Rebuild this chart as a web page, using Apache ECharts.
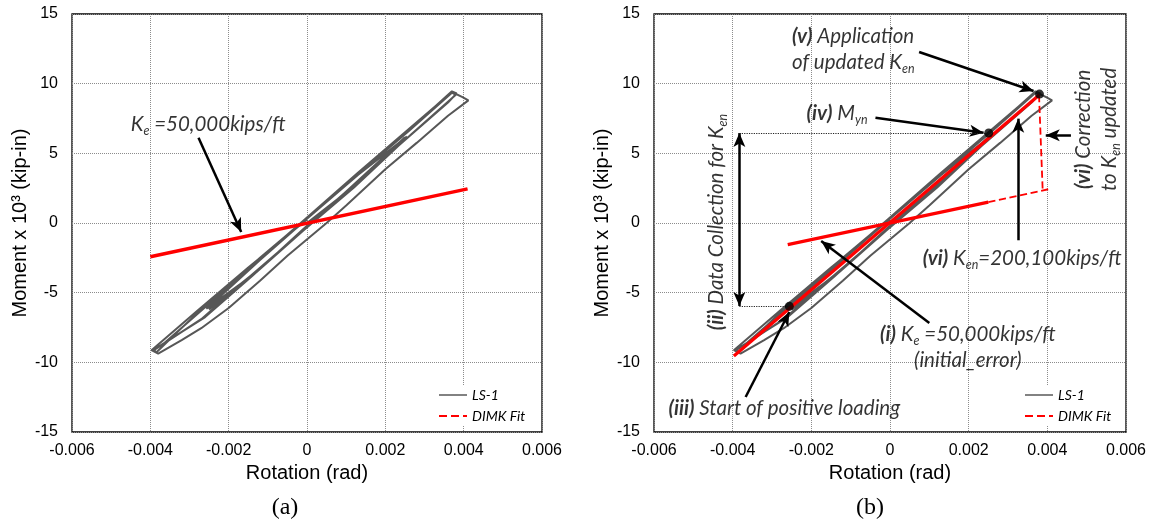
<!DOCTYPE html>
<html>
<head>
<meta charset="utf-8">
<title>LS-1 DIMK fit</title>
<script src="https://cdn.jsdelivr.net/npm/echarts@6/dist/echarts.min.js"></script>
<style>
  html, body { margin: 0; padding: 0; background: #fff; }
  #chart { width: 1151px; height: 523px; }
</style>
</head>
<body>
<div id="chart"></div>
<script>
// LS-1 test loop, rotation (rad) vs moment (x10^3 kip-in)
var ls1Loop = [
  [0, 0], [0.0008, 1.75], [0.0016, 3.8], [0.0025, 6.15], [0.0024, 5.75],
  [0.0012, 2.7], [0.0, -0.3], [-0.0012, -3.25], [-0.0025, -6.2], [-0.0024, -5.75],
  [-0.0012, -2.65], [0.0, 0.3], [0.0013, 3.45], [0.00255, 6.2], [0.00245, 5.85],
  [0.0012, 2.55], [-0.0001, -0.55], [-0.0013, -3.55], [-0.00257, -6.15], [-0.00245, -5.8],
  [-0.0012, -2.5], [0.0001, 0.6], [0.0013, 3.55], [0.0026, 6.65], [0.0037, 9.45],
  [0.00382, 9.3], [0.0036, 8.65], [0.0027, 6.45], [0.0014, 3.25], [0.0, -0.3],
  [-0.0014, -3.7], [-0.0027, -6.9], [-0.0039, -9.1], [-0.00385, -9.3], [-0.0028, -6.45],
  [-0.0015, -3.3], [0.0, 0.35], [0.0013, 3.5], [0.0026, 6.6], [0.0037, 9.35],
  [0.0038, 9.2], [0.0026, 6.2], [0.0012, 2.75], [-0.0001, -0.45], [-0.0014, -3.8],
  [-0.0026, -6.75], [-0.00395, -9.15], [-0.0037, -8.75], [-0.0025, -5.8], [-0.0012, -2.55],
  [0.0, 0.4], [0.0013, 3.6], [0.0026, 6.75], [0.0037, 9.4], [0.00397, 9.04],
  [0.00412, 8.8], [0.0036, 7.7], [0.0028, 5.75], [0.002, 3.85], [0.001, 1.25],
  [0.0005, 0.0], [-0.0005, -2.35], [-0.0012, -4.15], [-0.002, -6.1], [-0.0027, -7.55],
  [-0.0032, -8.4], [-0.0036, -9.05], [-0.0038, -9.38], [-0.00397, -9.13], [-0.0028, -6.3],
  [-0.0015, -3.2], [0.0, 0.25]
];

// DIMK fit lines
var dimkA = [[-0.004, -2.42], [0.0041, 2.45]];
var dimkB = [[-0.00397, -9.55], [0.0038, 9.2]];
var keSolidB = [[-0.0026, -1.55], [0.0025, 1.5]];
var keDashB = [[0.0025, 1.5], [0.0041, 2.47]];
var correctionB = [[0.00388, 2.47], [0.00379, 9.1]];
var pointsB = [[0.0038, 9.25], [0.00251, 6.46], [-0.00256, -5.98]];

// axes
var rotRange = [-0.006, 0.006, 0.002];
var momRange = [-15, 15, 5];

// annotation arrows [x1, y1, x2, y2]
var arrowsA = [[-0.00277, 6.12, -0.00168, -0.65]];
var arrowsB = [
  [0.00074, 12.27, 0.00365, 9.47],
  [-0.00037, 7.56, 0.00238, 6.48],
  [0.00326, -1.24, 0.00326, 7.49],
  [0.0046, 6.29, 0.00396, 6.29],
  [0.001, -7.18, -0.00175, -1.29],
  [-0.00367, -12.49, -0.00256, -6.39]
];
var doubleArrowB = [[-0.00383, 6.46, -0.00383, -5.96]];
var guidesB = [[-0.00383, 6.46, 0.00245, 6.46], [-0.00383, -5.96, -0.0026, -5.96]];

// notes [x, y, text, position, rotate, align]
var notesA = [[-0.0045, 7.08, 'K{s|e} =50,000kips/ft', 'right', 0, 'left']];
var notesB = [
  [-0.00249, 12.49, '{b|(v)} Application\nof updated K{s|en}', 'right', 0, 'left'],
  [-0.00212, 7.89, '{b|(iv)} M{s|yn}', 'right', 0, 'left'],
  [-0.00441, 0.07, '{b|(ii)} Data Collection for K{s|en}', 'inside', 90, 'center'],
  [0.00524, 6.72, '{b|(vi)} Correction\nto K{s|en} updated', 'inside', 90, 'center'],
  [0.00083, -2.51, '{b|(vi)} K{s|en}=200,100kips/ft', 'right', 0, 'left'],
  [0.00198, -8.9, '{b|(i)} K{s|e} =50,000kips/ft\n(initial_error)', 'inside', 0, 'center'],
  [-0.00563, -13.33, '{b|(iii)} Start of positive loading', 'right', 0, 'left']
];

var noteFamily = 'Lato';
var noteSize = 20.5;

function noteData(list) {
  return list.map(function (n) {
    return {
      value: [n[0], n[1]],
      label: { formatter: n[2], position: n[3], rotate: n[4], align: n[5], distance: 0 }
    };
  });
}

function arrowData(list, both) {
  return list.map(function (a) {
    return [
      { coord: [a[0], a[1]], symbol: both ? 'arrow' : 'none' },
      { coord: [a[2], a[3]], symbol: 'arrow' }
    ];
  });
}

function guideData(list) {
  return list.map(function (a) {
    return [
      { coord: [a[0], a[1]], symbol: 'none', lineStyle: { type: 'dotted', width: 1.2, color: '#222' } },
      { coord: [a[2], a[3]], symbol: 'none', lineStyle: { type: 'dotted', width: 1.2, color: '#222' } }
    ];
  });
}

function xAxisFor(i) {
  return {
    type: 'value', gridIndex: i,
    min: rotRange[0], max: rotRange[1], interval: rotRange[2],
    name: 'Rotation (rad)', nameLocation: 'middle', nameGap: 30,
    nameTextStyle: { fontFamily: 'Liberation Sans', fontSize: 20, color: '#000' },
    axisLine: { show: false, onZero: false },
    axisTick: { show: false },
    axisLabel: {
      margin: 11, color: '#000', fontFamily: 'Liberation Sans', fontSize: 16,
      formatter: function (v) { return Math.abs(v) < 1e-9 ? '0' : v.toFixed(3); }
    },
    splitLine: { show: true, lineStyle: { type: 'dotted', color: '#8c8c8c', width: 1 } }
  };
}

function yAxisFor(i) {
  return {
    type: 'value', gridIndex: i,
    min: momRange[0], max: momRange[1], interval: momRange[2],
    name: 'Moment x 10³ (kip-in)', nameLocation: 'middle', nameGap: 38,
    nameTextStyle: { fontFamily: 'Liberation Sans', fontSize: 20, color: '#000' },
    axisLine: { show: false, onZero: false },
    axisTick: { show: false },
    axisLabel: { margin: 14, color: '#000', fontFamily: 'Liberation Sans', fontSize: 16 },
    splitLine: { show: true, lineStyle: { type: 'dotted', color: '#8c8c8c', width: 1 } }
  };
}

function legendFor(left) {
  return {
    left: left, top: 386, orient: 'vertical', padding: 2,
    itemWidth: 28, itemHeight: 14, itemGap: 7,
    backgroundColor: '#fff', selectedMode: false,
    itemStyle: { opacity: 0 },
    textStyle: { fontFamily: noteFamily, fontStyle: 'italic', fontSize: 14, color: '#000' },
    data: [
      { name: 'LS-1', itemStyle: { opacity: 0 }, lineStyle: { color: '#595959', width: 1.5, type: 'solid' } },
      { name: 'DIMK Fit', itemStyle: { opacity: 0 }, lineStyle: { color: '#ff0000', width: 2, type: 'dashed' } }
    ]
  };
}

var noteRich = {
  b: { fontFamily: noteFamily, fontStyle: 'italic', fontWeight: 'bold', fontSize: noteSize, color: '#000' },
  s: { fontFamily: noteFamily, fontStyle: 'italic', fontSize: 12.5, color: '#000', verticalAlign: 'bottom' }
};

function noteSeries(i, list, markLine) {
  return {
    name: 'notes' + i, type: 'scatter', xAxisIndex: i, yAxisIndex: i,
    symbolSize: 0, silent: true, z: 6,
    label: {
      show: true, color: '#000', fontFamily: noteFamily, fontStyle: 'italic',
      fontSize: noteSize, lineHeight: 26, rich: noteRich
    },
    data: noteData(list),
    markLine: markLine
  };
}

function lineSeries(name, i, data, color, width, type, z) {
  return {
    name: name, type: 'line', xAxisIndex: i, yAxisIndex: i, data: data,
    symbol: 'none', silent: true, z: z,
    itemStyle: { color: color },
    lineStyle: { color: color, width: width, type: type }
  };
}

var arrowStyle = { color: '#000', width: 2.5, type: 'solid' };

var myChart = echarts.init(document.getElementById('chart'));
myChart.setOption({
  animation: false,
  backgroundColor: '#fff',
  grid: [
    { left: 72, top: 14, width: 470, height: 418, show: true, borderColor: '#000', borderWidth: 1.3, backgroundColor: 'transparent' },
    { left: 654, top: 14, width: 472, height: 418, show: true, borderColor: '#000', borderWidth: 1.3, backgroundColor: 'transparent' }
  ],
  xAxis: [xAxisFor(0), xAxisFor(1)],
  yAxis: [yAxisFor(0), yAxisFor(1)],
  legend: [legendFor(436), legendFor(1022)],
  graphic: [
    { type: 'text', x: 285, y: 508, style: { text: '(a)', font: '24px "Liberation Serif"', fill: '#000', textAlign: 'center', textVerticalAlign: 'middle' } },
    { type: 'text', x: 870, y: 508, style: { text: '(b)', font: '24px "Liberation Serif"', fill: '#000', textAlign: 'center', textVerticalAlign: 'middle' } }
  ],
  series: [
    lineSeries('LS-1', 0, ls1Loop, '#575757', 2, 'solid', 2),
    lineSeries('DIMK Fit', 0, dimkA, '#ff0000', 3.5, 'solid', 3),
    noteSeries(0, notesA, {
      silent: true, symbolSize: [9, 14], label: { show: false }, lineStyle: arrowStyle,
      data: arrowData(arrowsA, false)
    }),

    lineSeries('LS-1', 1, ls1Loop, '#575757', 2, 'solid', 2),
    lineSeries('DIMK Fit', 1, dimkB, '#ff0000', 3.2, 'solid', 3),
    lineSeries('DIMK Fit', 1, keSolidB, '#ff0000', 3.2, 'solid', 3),
    lineSeries('DIMK Fit', 1, keDashB, '#ff0000', 1.8, 'dashed', 3),
    lineSeries('DIMK Fit', 1, correctionB, '#ff0000', 1.8, 'dashed', 3),
    {
      name: 'points', type: 'scatter', xAxisIndex: 1, yAxisIndex: 1, data: pointsB,
      symbolSize: 9, silent: true, z: 5, itemStyle: { color: '#000' }
    },
    noteSeries(1, notesB, {
      silent: true, symbolSize: [9, 14], label: { show: false }, lineStyle: arrowStyle,
      data: arrowData(arrowsB, false).concat(arrowData(doubleArrowB, true)).concat(guideData(guidesB))
    })
  ]
});
</script>
</body>
</html>
